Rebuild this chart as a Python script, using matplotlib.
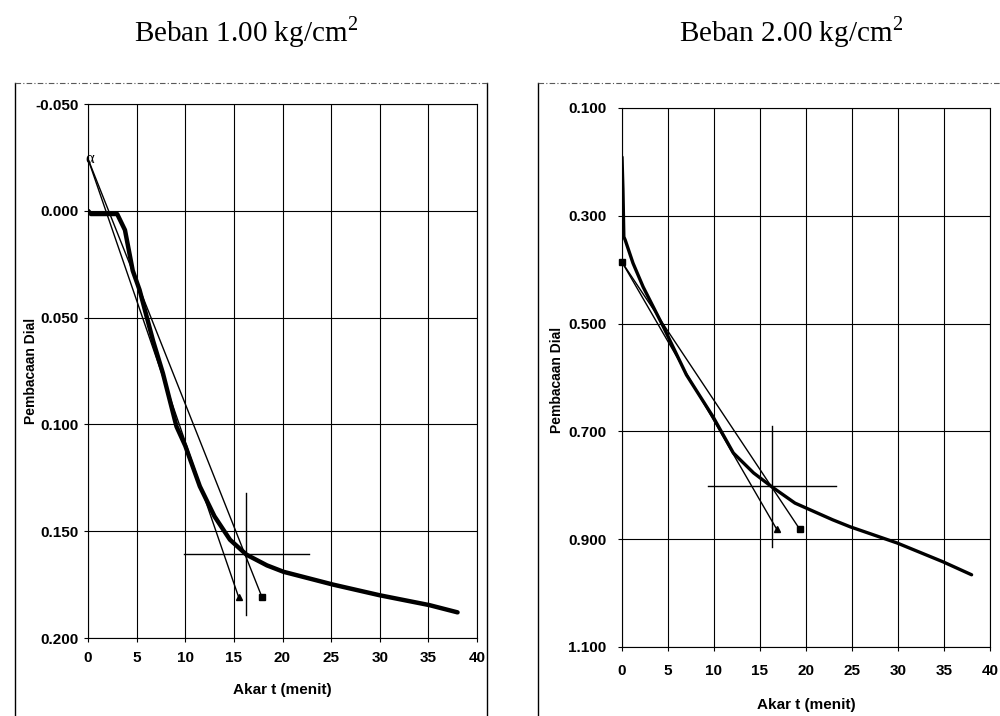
import numpy as np
import matplotlib.pyplot as plt
from matplotlib.lines import Line2D

# Beban 1.00 kg/cm2 : akar t vs pembacaan dial
t1 = [0, 0.3, 1.0, 2.0, 3.0, 3.8, 4.6, 5.3, 6.7, 7.7, 9.1, 10.0, 11.5, 13.0, 14.6, 16.3, 18.4, 20.1, 25.2, 30.0, 35.1, 38.0]
d1 = [0.000, 0.0015, 0.0015, 0.0015, 0.0015, 0.009, 0.028, 0.037, 0.061, 0.076, 0.101, 0.110, 0.129, 0.143, 0.154, 0.161, 0.166, 0.169, 0.175, 0.180, 0.1846, 0.188]
# garis bantu (koreksi awal -> 0.90 / 1.15 x)
a1 = (0.0, -0.0243)
tri1 = (15.5, 0.181)
sq1 = (17.9, 0.181)
h1_x = [9.9, 22.7]
h1_y = 0.1607
v1_x = 16.2
v1_y = [0.132, 0.189]

# Beban 2.00 kg/cm2
t2 = [0, 0.1, 0.2, 0.35, 1.2, 2.3, 4.5, 7.0, 9.9, 12.1, 14.3, 16.3, 18.8, 22.9, 24.8, 29.9, 34.9, 38.0]
d2 = [0.191, 0.25, 0.339, 0.345, 0.388, 0.432, 0.506, 0.595, 0.673, 0.740, 0.777, 0.803, 0.833, 0.864, 0.877, 0.907, 0.942, 0.966]
a2 = (0.0, 0.386)
tri2 = (16.8, 0.881)
sq2 = (19.3, 0.881)
h2_x = [9.4, 23.3]
h2_y = 0.801
v2_x = 16.3
v2_y = [0.69, 0.914]

plt.rcParams['font.family'] = ['Liberation Sans', 'DejaVu Sans']
plt.rcParams['mathtext.fontset'] = 'custom'
plt.rcParams['mathtext.rm'] = 'Liberation Serif'
fig = plt.figure(figsize=(10, 7.16), dpi=100)

# bingkai chart (sisi kiri/kanan solid, atas putus-putus)
def frame(x0, x1, y0):
    fy = 1 - y0/716
    fig.add_artist(Line2D([x0/1000, x0/1000], [0, fy], color='black', lw=1))
    if x1 < 1000:
        fig.add_artist(Line2D([x1/1000, x1/1000], [0, fy], color='black', lw=1))
    fig.add_artist(Line2D([x0/1000, x1/1000], [fy, fy], color='0.35', lw=0.8, ls=(0, (5, 2, 1, 2))))

frame(15, 487, 83)
frame(538, 1000, 83)

ax1 = fig.add_axes([88/1000, 1 - 638/716, (477-88)/1000, (638-104)/716])
ax2 = fig.add_axes([622/1000, 1 - 647/716, (990-622)/1000, (647-108)/716])

def styling(ax, yticks, ylim, xpad, ypad, ylab_x, ylab_y, xlab_y):
    ax.set_xlim(0, 40)
    ax.set_ylim(ylim)
    ax.set_xticks(np.arange(0, 41, 5))
    ax.set_yticks(yticks)
    ax.set_yticklabels([f"{v:.3f}" for v in yticks])
    ax.grid(True, color='black', lw=0.8)
    ax.tick_params(direction='out', length=3, width=0.8, labelsize=11)
    ax.tick_params(axis='x', pad=xpad)
    ax.tick_params(axis='y', pad=ypad)
    for lab in ax.get_xticklabels() + ax.get_yticklabels():
        lab.set_fontweight('bold')
    for s in ax.spines.values():
        s.set_linewidth(0.8)
    ax.set_xlabel("Akar t (menit)", fontsize=11, fontweight='bold')
    ax.set_ylabel("Pembacaan Dial", fontsize=10, fontweight='bold')
    ax.yaxis.set_label_coords(ylab_x, ylab_y)
    ax.xaxis.set_label_coords(0.5, xlab_y)

styling(ax1, [-0.05, 0.0, 0.05, 0.1, 0.15, 0.2], (0.2, -0.05), 6, 4, -0.128, 0.5, -0.084)
styling(ax2, [0.1, 0.3, 0.5, 0.7, 0.9, 1.1], (1.1, 0.1), 9, 8, -0.158, 0.495, -0.095)

# chart 1
ax1.plot([a1[0], tri1[0]], [a1[1], tri1[1]], color='black', lw=1)
ax1.plot([a1[0], sq1[0]], [a1[1], sq1[1]], color='black', lw=1)
ax1.plot(t1, d1, color='black', lw=3.2, solid_capstyle='round')
ax1.text(a1[0] + 0.2, a1[1], "α", fontsize=12, family='Liberation Serif', ha='center', va='center')
ax1.plot(*tri1, marker='^', ms=5, color='black')
ax1.plot(*sq1, marker='s', ms=5, color='black')
ax1.plot(h1_x, [h1_y, h1_y], color='black', lw=1)
ax1.plot([v1_x, v1_x], v1_y, color='black', lw=1)

# chart 2
ax2.plot([a2[0], tri2[0]], [a2[1], tri2[1]], color='black', lw=1)
ax2.plot([a2[0], sq2[0]], [a2[1], sq2[1]], color='black', lw=1)
ax2.plot(t2, d2, color='black', lw=2.4, solid_capstyle='round')
ax2.plot(*a2, marker='s', ms=5, color='black', clip_on=False)
ax2.plot(*tri2, marker='^', ms=5, color='black')
ax2.plot(*sq2, marker='s', ms=5, color='black')
ax2.plot(h2_x, [h2_y, h2_y], color='black', lw=1)
ax2.plot([v2_x, v2_x], v2_y, color='black', lw=1)

fig.text(0.246, 1 - 32/716, "Beban 1.00 kg/cm$^2$", fontsize=21, ha='center', va='center',
         family='Liberation Serif')
fig.text(0.791, 1 - 32/716, "Beban 2.00 kg/cm$^2$", fontsize=21, ha='center', va='center',
         family='Liberation Serif')

plt.savefig("out.png", dpi=100)
